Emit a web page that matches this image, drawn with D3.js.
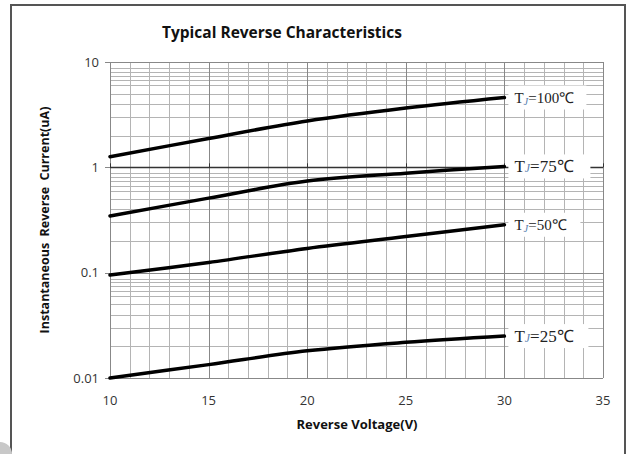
<!DOCTYPE html>
<html>
<head>
<meta charset="utf-8">
<script src="https://cdn.jsdelivr.net/npm/d3@7"></script>
<style>
body { margin: 0; background: #fff; }
</style>
</head>
<body>
<svg></svg>
<script>
// data
var voltage = [10, 15, 20, 25, 30]
var t100 = [1.26, 1.88, 2.75, 3.65, 4.6]
var t75 = [0.345, 0.51, 0.74, 0.88, 1.02]
var t50 = [0.095, 0.125, 0.17, 0.22, 0.285]
var t25 = [0.01, 0.0134, 0.0181, 0.0218, 0.025]
var seriesNames = ['100', '75', '50', '25']
var xTicks = [10, 15, 20, 25, 30, 35]
var yTicks = [0.01, 0.1, 1, 10]
var yTickText = ['0.01', '0.1', '1', '10']
var minorSteps = [2, 3, 4, 5, 6, 6.7, 7.4, 8.1, 8.8]

var svg = d3.select('svg')
  .attr('width', 633)
  .attr('height', 454)

var x = d3.scaleLinear().domain([10, 35]).range([110, 603])
var y = d3.scaleLog().domain([0.01, 10]).range([378, 62])
// crisp 1px lines
var cx = d => Math.round(x(d)) + 0.5
var cy = d => Math.round(y(d)) + 0.5

// frame
svg.append('rect')
  .attr('x', 11).attr('y', 5)
  .attr('width', 614).attr('height', 470)
  .attr('fill', 'none')
  .attr('stroke', '#555')
  .attr('stroke-width', 2)
svg.append('circle')
  .attr('cx', 0).attr('cy', 454).attr('r', 12)
  .attr('fill', '#c8c8c8')

// grid
var hlines = []
yTicks.slice(0, 3).forEach(function (b) {
  minorSteps.forEach(function (m) { hlines.push(b * m) })
})
svg.append('g').selectAll('line')
  .data(hlines)
  .enter().append('line')
  .attr('x1', x(10)).attr('x2', x(35))
  .attr('y1', d => cy(d)).attr('y2', d => cy(d))
  .attr('stroke', '#b4b4b4')
  .attr('stroke-width', 1)

var vlines = d3.range(10, 36, 1)
svg.append('g').selectAll('line')
  .data(vlines)
  .enter().append('line')
  .attr('x1', d => cx(d)).attr('x2', d => cx(d))
  .attr('y1', y(10)).attr('y2', y(0.01))
  .attr('stroke', d => d % 5 == 0 ? '#888' : '#b4b4b4')
  .attr('stroke-width', 1)

svg.append('g').selectAll('line')
  .data(yTicks)
  .enter().append('line')
  .attr('x1', x(10) - 5).attr('x2', x(35))
  .attr('y1', d => cy(d)).attr('y2', d => cy(d))
  .attr('stroke', '#888')
  .attr('stroke-width', 1)

// x axis crossing at 1
svg.append('line')
  .attr('x1', x(10)).attr('x2', x(35))
  .attr('y1', cy(1)).attr('y2', cy(1))
  .attr('stroke', '#333')
  .attr('stroke-width', 1.5)
svg.append('g').selectAll('line')
  .data(xTicks)
  .enter().append('line')
  .attr('x1', d => cx(d)).attr('x2', d => cx(d))
  .attr('y1', y(1)).attr('y2', y(1) - 4)
  .attr('stroke', '#333')

// tick labels
svg.append('g').selectAll('text')
  .data(yTicks)
  .enter().append('text')
  .attr('x', 99)
  .attr('y', d => y(d))
  .attr('dy', '.35em')
  .attr('text-anchor', 'end')
  .attr('font-family', 'Open Sans, sans-serif')
  .attr('font-size', 13)
  .attr('fill', '#333')
  .text((d, i) => yTickText[i])

svg.append('g').selectAll('text')
  .data(xTicks)
  .enter().append('text')
  .attr('x', d => x(d))
  .attr('y', 405)
  .attr('text-anchor', 'middle')
  .attr('font-family', 'Open Sans, sans-serif')
  .attr('font-size', 13)
  .attr('fill', '#333')
  .text(d => d)

// titles
svg.append('text')
  .attr('x', 282).attr('y', 38)
  .attr('text-anchor', 'middle')
  .attr('font-family', 'Open Sans, sans-serif')
  .attr('font-weight', 'bold')
  .attr('font-size', 15.5)
  .attr('fill', '#111')
  .text('Typical Reverse Characteristics')

svg.append('text')
  .attr('x', 357).attr('y', 429)
  .attr('text-anchor', 'middle')
  .attr('font-family', 'Open Sans, sans-serif')
  .attr('font-weight', 'bold')
  .attr('font-size', 13)
  .attr('fill', '#111')
  .text('Reverse Voltage(V)')

svg.append('text')
  .attr('transform', 'translate(49,220) rotate(-90)')
  .attr('text-anchor', 'middle')
  .attr('font-family', 'Open Sans, sans-serif')
  .attr('font-weight', 'bold')
  .attr('font-size', 12.5)
  .attr('fill', '#111')
  .attr('xml:space', 'preserve')
  .text('Instantaneous  Reverse  Current(uA)')

// curves
var series = [t100, t75, t50, t25]
var line = d3.line()
  .x((d, i) => x(voltage[i]))
  .y(d => y(d))
  .curve(d3.curveCatmullRom)

svg.append('g').selectAll('path')
  .data(series)
  .enter().append('path')
  .attr('d', line)
  .attr('fill', 'none')
  .attr('stroke', '#000')
  .attr('stroke-width', 3.5)
  .attr('stroke-linecap', 'round')

// labels
var labelSize = [15, 17, 15, 17]
var labelW = [78, 82, 72, 80]
series.forEach(function (s, i) {
  var lx = x(voltage[voltage.length - 1])
  var ly = y(s[s.length - 1])
  svg.append('rect')
    .attr('x', lx + 4).attr('y', ly - 12)
    .attr('width', labelW[i]).attr('height', 24)
    .attr('fill', '#fff')
  var t = svg.append('text')
    .attr('x', lx + 10).attr('y', ly)
    .attr('dy', '.35em')
    .attr('font-family', 'Liberation Serif, serif')
    .attr('font-size', labelSize[i])
    .attr('fill', '#222')
  t.append('tspan').text('T')
  t.append('tspan')
    .attr('font-size', labelSize[i] * 0.7)
    .attr('font-style', 'italic')
    .attr('fill', '#5b7fb0')
    .attr('dy', i % 2 == 1 ? 0 : 2)
    .text('J')
  t.append('tspan')
    .attr('dy', i % 2 == 1 ? 0 : -2)
    .text('=' + seriesNames[i] + '℃')
})
</script>
</body>
</html>
